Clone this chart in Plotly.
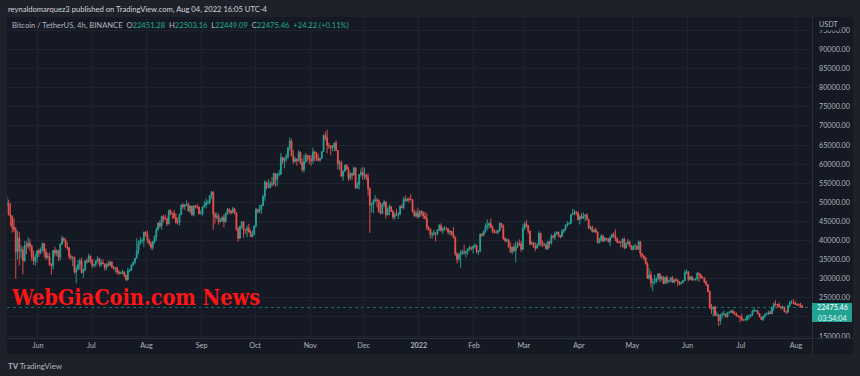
import pandas as pd
import plotly.graph_objects as go

# ---------------- data (daily BTC/USDT, thousands of USDT) ----------------
start_date = "2021-05-14"
first_open = 49.5

close = [
    # May 2021 (14-31)
    49.7, 46.7, 46.4, 43.5, 42.9, 37.0, 40.7, 37.3, 37.5, 34.7, 38.7, 38.4, 39.3, 38.5, 35.7, 34.6, 35.7, 37.3,
    # Jun 2021
    36.7, 37.6, 39.2, 36.9, 35.5, 35.8, 33.6, 33.4, 37.4, 36.7, 37.3, 35.6, 39.0, 40.5, 40.1, 38.4, 38.1, 35.8, 35.5, 35.6,
    31.7, 32.5, 33.7, 34.7, 31.6, 32.3, 34.7, 34.5, 35.9, 35.0,
    # Jul 2021
    33.5, 33.8, 34.7, 35.3, 33.7, 34.2, 33.9, 32.9, 33.8, 33.5, 34.3, 33.1, 32.7, 32.8, 31.8, 31.4, 31.5, 31.8, 30.8, 29.8,
    32.1, 32.3, 33.6, 34.3, 35.4, 37.3, 39.5, 40.0, 40.0, 42.2, 41.5,
    # Aug 2021
    39.9, 39.2, 38.2, 39.7, 40.9, 42.8, 44.6, 43.8, 46.3, 45.6, 45.6, 44.4, 47.8, 47.1, 47.0, 46.0, 44.7, 44.7, 46.8, 49.3,
    48.9, 49.3, 49.5, 47.7, 49.0, 46.8, 49.1, 48.9, 48.8, 47.0, 47.1,
    # Sep 2021
    48.8, 49.3, 49.9, 49.9, 51.8, 52.7, 46.9, 46.1, 46.4, 44.9, 45.2, 46.0, 44.9, 47.1, 48.1, 47.7, 47.3, 48.3, 47.3, 43.0,
    40.6, 43.6, 44.9, 42.8, 42.7, 43.2, 42.2, 41.0, 41.5, 43.8,
    # Oct 2021
    48.1, 47.6, 48.2, 49.2, 51.5, 55.3, 53.8, 53.9, 54.9, 54.7, 57.5, 56.0, 57.4, 57.4, 61.7, 60.9, 61.5, 62.0, 64.3, 66.0,
    62.2, 60.7, 61.3, 60.9, 63.1, 60.3, 58.5, 60.6, 62.3, 61.9, 61.3,
    # Nov 2021
    60.9, 63.2, 62.9, 61.4, 61.0, 61.5, 63.3, 67.5, 66.9, 64.9, 64.8, 64.2, 64.4, 65.5, 63.6, 60.1, 60.4, 56.9, 58.1, 59.7,
    58.7, 56.3, 57.5, 57.1, 59.0, 53.7, 54.7, 57.3, 57.8, 57.0,
    # Dec 2021
    57.2, 56.5, 53.6, 49.2, 49.4, 50.4, 50.6, 50.5, 47.5, 47.1, 49.4, 50.1, 46.7, 48.3, 48.9, 47.6, 46.1, 46.8, 46.7, 46.9,
    48.9, 48.6, 50.8, 50.4, 50.8, 50.7, 50.7, 47.5, 46.5, 47.1, 46.2,
    # Jan 2022
    47.7, 47.3, 46.4, 45.8, 43.4, 43.1, 41.6, 41.7, 41.9, 41.8, 42.7, 43.9, 42.6, 43.1, 43.2, 43.1, 42.2, 42.4, 41.7, 40.7,
    36.5, 35.1, 36.3, 36.7, 37.0, 36.8, 37.2, 37.7, 38.2, 37.9, 38.5,
    # Feb 2022
    38.7, 37.0, 37.2, 41.6, 41.4, 42.4, 43.8, 44.0, 44.4, 43.5, 42.4, 42.2, 42.1, 42.5, 44.5, 43.9, 40.5, 40.0, 40.1, 38.4,
    37.0, 38.3, 37.3, 38.3, 39.2, 39.1, 37.7, 43.2,
    # Mar 2022
    44.4, 43.9, 42.5, 39.1, 39.4, 38.4, 38.0, 38.7, 41.9, 39.4, 38.7, 38.8, 37.8, 39.7, 39.3, 41.1, 40.9, 41.8, 42.2, 41.3,
    41.0, 42.4, 42.9, 44.0, 44.4, 44.5, 46.8, 47.1, 47.4, 47.1, 45.5,
    # Apr 2022
    46.3, 45.8, 46.4, 46.6, 45.5, 43.2, 43.4, 42.3, 42.8, 42.2, 39.5, 40.1, 41.2, 39.9, 40.6, 40.4, 39.7, 40.8, 41.5, 41.4,
    40.5, 39.7, 39.5, 39.5, 40.4, 38.1, 39.2, 39.7, 38.6, 37.6,
    # May 2022
    38.5, 38.5, 37.7, 39.7, 36.6, 36.0, 35.5, 34.0, 30.1, 31.0, 28.9, 29.0, 29.3, 30.1, 31.3, 29.9, 30.4, 28.7, 30.3, 29.2,
    29.4, 30.3, 29.1, 29.7, 29.5, 29.2, 28.6, 29.0, 29.5, 31.7, 31.8,
    # Jun 2022
    29.8, 30.5, 29.7, 29.9, 29.9, 31.4, 31.1, 30.2, 30.1, 29.1, 28.4, 26.6, 22.5, 22.1, 22.6, 20.4, 20.5, 19.0, 20.6, 20.7,
    20.7, 20.0, 21.1, 21.2, 21.5, 21.0, 20.7, 20.3, 20.1, 19.9,
    # Jul 2022
    19.3, 19.2, 19.3, 20.2, 20.2, 20.5, 21.6, 21.6, 21.6, 20.9, 20.0, 19.3, 20.2, 20.6, 20.8, 21.2, 20.8, 22.4, 23.4, 23.2,
    23.2, 22.7, 22.5, 22.6, 21.3, 21.3, 23.0, 23.8, 23.8, 23.6, 23.3,
    # Aug 2022 (1-4)
    23.3, 23.0, 22.8, 22.47546,
]

high = [
    51.5, 50.7, 49.8, 46.6, 45.8, 43.5, 42.5, 42.2, 38.8, 38.3, 39.9, 39.8, 40.9, 40.4, 38.9, 37.3, 36.5, 37.5,
    37.9, 38.2, 39.5, 39.3, 37.9, 36.8, 36.8, 34.1, 37.5, 38.4, 37.7, 37.5, 39.3, 41.3, 40.9, 40.5, 39.6, 38.2, 36.4, 36.0,
    35.8, 33.3, 34.9, 35.3, 35.5, 32.7, 34.7, 35.3, 36.6, 36.1,
    35.0, 33.9, 34.9, 35.9, 35.3, 35.1, 35.0, 33.9, 34.1, 34.7, 34.6, 34.7, 33.3, 33.1, 33.2, 32.2, 31.9, 32.4, 31.9, 31.1,
    32.9, 32.6, 33.7, 34.5, 35.4, 40.6, 40.0, 40.9, 40.6, 42.3, 42.4,
    42.6, 40.5, 39.8, 39.9, 41.4, 43.4, 44.7, 45.3, 46.5, 46.7, 46.8, 46.2, 48.1, 48.2, 47.4, 48.0, 47.2, 46.0, 47.1, 49.4,
    49.8, 49.5, 50.5, 49.9, 49.3, 49.0, 49.2, 49.3, 49.6, 48.9, 48.0,
    49.0, 50.4, 51.0, 50.6, 51.9, 52.9, 52.9, 47.4, 47.3, 47.0, 45.9, 46.4, 46.9, 47.3, 48.5, 48.5, 48.0, 48.8, 48.4, 47.4,
    43.6, 44.0, 45.0, 45.0, 42.9, 43.9, 44.4, 42.8, 42.6, 44.0,
    48.5, 48.4, 49.3, 49.5, 51.9, 55.8, 55.3, 56.1, 55.5, 56.6, 57.8, 57.7, 57.6, 58.5, 62.9, 62.0, 61.7, 62.7, 64.5, 67.0,
    66.6, 63.7, 61.8, 61.5, 63.7, 63.3, 61.5, 62.5, 62.9, 62.4, 62.4,
    62.4, 64.3, 63.5, 63.1, 62.6, 61.6, 63.3, 67.8, 68.5, 69.0, 65.6, 65.0, 65.0, 65.6, 66.3, 63.6, 61.0, 60.9, 58.4, 59.8,
    60.0, 59.3, 57.9, 57.8, 59.4, 59.2, 55.3, 57.4, 58.9, 59.2,
    59.1, 57.4, 57.6, 53.9, 49.9, 50.9, 51.9, 51.2, 50.8, 50.1, 49.8, 50.7, 50.3, 48.7, 49.5, 49.0, 48.0, 47.4, 48.3, 47.5,
    49.3, 49.6, 51.4, 51.8, 51.2, 51.3, 52.1, 50.7, 48.1, 47.9, 48.6,
    47.9, 47.9, 47.6, 47.5, 47.1, 43.8, 43.1, 42.3, 42.8, 42.2, 43.0, 44.3, 44.5, 43.5, 43.8, 43.5, 43.2, 42.7, 42.6, 43.5,
    41.1, 36.9, 36.8, 37.5, 37.6, 38.9, 37.2, 38.0, 38.7, 38.4, 38.7,
    39.3, 38.9, 37.4, 41.9, 42.0, 42.7, 44.5, 45.5, 44.8, 45.8, 43.9, 42.9, 42.8, 42.9, 44.8, 44.6, 44.2, 40.9, 40.5, 40.5,
    39.5, 38.4, 39.2, 39.8, 39.7, 40.3, 39.9, 44.2,
    44.9, 45.4, 44.1, 42.5, 39.8, 39.6, 39.5, 39.4, 42.4, 42.0, 40.0, 39.5, 39.3, 39.9, 39.9, 41.7, 41.5, 42.3, 42.4, 42.3,
    41.5, 43.0, 43.0, 44.2, 45.1, 44.8, 46.9, 48.2, 48.1, 47.7, 47.6,
    46.7, 47.2, 47.4, 46.9, 47.2, 45.5, 43.9, 43.9, 42.8, 43.4, 42.4, 40.7, 41.6, 41.5, 40.9, 40.7, 40.6, 41.1, 41.8, 42.2,
    42.9, 40.8, 39.9, 39.9, 40.6, 40.8, 39.5, 40.4, 39.9, 38.8,
    38.7, 39.2, 38.7, 40.0, 39.8, 36.7, 36.1, 35.5, 34.3, 32.7, 32.0, 30.0, 31.0, 30.3, 31.4, 31.3, 30.8, 30.7, 30.6, 30.8,
    29.6, 30.4, 30.7, 29.8, 30.2, 29.9, 29.3, 29.2, 29.6, 32.2, 32.4,
    32.0, 30.7, 30.7, 30.0, 30.2, 31.8, 31.6, 31.0, 30.7, 30.4, 29.5, 28.6, 26.9, 23.4, 22.8, 22.9, 21.4, 20.8, 20.8, 21.2,
    21.7, 20.9, 21.2, 21.5, 21.9, 21.9, 21.5, 21.2, 20.4, 20.2,
    20.9, 19.4, 19.7, 20.4, 20.7, 20.7, 21.9, 22.5, 21.9, 21.6, 20.9, 20.0, 20.3, 20.9, 21.2, 21.6, 21.7, 22.8, 23.8, 24.3,
    23.4, 23.8, 22.7, 23.0, 22.7, 21.6, 23.1, 24.2, 24.4, 24.7, 24.2,
    23.5, 23.5, 23.7, 23.2,
]

low = [
    48.8, 46.6, 43.8, 42.1, 42.2, 30.0, 35.0, 33.5, 35.3, 31.1, 34.4, 36.4, 37.8, 37.2, 34.7, 33.6, 33.4, 34.2,
    35.7, 36.4, 37.2, 35.6, 34.8, 35.3, 33.4, 31.0, 32.4, 35.8, 35.9, 34.6, 34.8, 38.8, 39.5, 38.1, 37.4, 35.1, 34.8, 33.3,
    31.3, 28.8, 32.3, 32.3, 31.3, 30.2, 32.0, 33.9, 34.2, 34.0,
    32.7, 33.0, 33.0, 34.3, 33.1, 33.1, 33.8, 32.1, 32.3, 33.1, 33.3, 32.7, 32.2, 31.6, 31.1, 31.0, 31.2, 31.1, 30.4, 29.3,
    29.5, 31.7, 32.0, 33.4, 33.8, 35.2, 36.4, 38.8, 39.2, 38.3, 41.0,
    39.4, 38.7, 37.6, 37.5, 39.2, 39.9, 42.6, 43.3, 42.8, 44.7, 45.5, 43.8, 44.2, 46.6, 45.6, 45.7, 44.4, 44.2, 43.9, 46.6,
    48.3, 48.0, 49.0, 47.6, 47.1, 46.4, 46.3, 48.4, 48.3, 46.9, 46.8,
    46.5, 48.6, 48.4, 49.4, 49.5, 50.9, 42.8, 44.4, 45.5, 44.1, 44.7, 44.8, 43.4, 44.7, 46.7, 47.0, 46.8, 47.1, 46.8, 42.5,
    39.6, 40.4, 43.0, 40.7, 41.7, 40.8, 42.1, 40.9, 40.8, 41.4,
    43.3, 47.1, 47.2, 46.9, 49.0, 50.4, 53.4, 53.7, 53.6, 54.1, 54.4, 54.0, 54.3, 56.8, 57.1, 60.0, 58.9, 60.6, 61.3, 63.5,
    62.0, 60.0, 60.4, 59.6, 60.7, 59.9, 58.0, 57.8, 60.2, 60.7, 60.0,
    59.5, 60.1, 60.7, 60.8, 60.7, 60.6, 61.3, 63.3, 66.2, 62.8, 64.0, 62.3, 63.4, 63.3, 63.4, 58.6, 58.4, 56.5, 55.6, 58.0,
    58.5, 55.6, 55.8, 55.9, 57.0, 53.5, 53.6, 53.3, 56.7, 55.9,
    56.0, 55.8, 51.7, 42.0, 47.3, 47.1, 50.0, 48.7, 47.3, 46.8, 46.9, 48.7, 45.7, 46.6, 46.6, 47.5, 45.5, 45.5, 46.5, 45.6,
    46.6, 48.4, 48.1, 50.2, 50.2, 49.9, 50.5, 47.3, 46.1, 46.0, 45.7,
    46.2, 46.6, 45.7, 45.5, 42.7, 42.5, 40.6, 40.5, 41.2, 39.7, 41.3, 42.5, 42.3, 41.7, 42.6, 42.6, 41.6, 41.3, 41.2, 40.6,
    36.0, 34.0, 34.6, 32.9, 36.2, 36.3, 35.5, 36.2, 37.4, 37.4, 36.6,
    38.0, 36.6, 36.2, 36.9, 40.9, 41.1, 42.0, 42.8, 43.1, 43.2, 41.9, 41.8, 41.9, 41.6, 42.4, 43.3, 40.1, 39.5, 39.6, 38.1,
    36.8, 36.4, 37.0, 34.3, 38.0, 38.6, 37.0, 37.5,
    42.8, 43.4, 41.8, 38.7, 38.9, 38.1, 37.2, 37.9, 38.7, 38.5, 38.2, 38.7, 37.6, 37.6, 38.1, 38.9, 40.5, 40.1, 41.5, 40.9,
    40.5, 40.9, 41.8, 42.6, 43.6, 44.1, 44.4, 46.6, 46.6, 46.6, 45.2,
    44.2, 45.6, 45.6, 45.1, 45.4, 43.0, 42.7, 42.1, 42.1, 42.0, 39.2, 39.2, 39.6, 39.6, 39.8, 40.0, 39.5, 38.5, 40.6, 40.8,
    39.8, 39.2, 39.3, 38.2, 38.2, 37.7, 37.9, 38.9, 38.2, 37.6,
    37.4, 37.6, 37.5, 37.5, 35.6, 35.3, 34.8, 33.7, 30.0, 29.7, 27.7, 26.7, 28.4, 28.9, 29.5, 29.1, 29.5, 28.6, 28.7, 28.7,
    28.9, 29.2, 28.9, 28.7, 29.3, 28.0, 28.3, 28.6, 28.9, 29.3, 31.2,
    29.3, 29.6, 29.4, 29.5, 29.5, 29.5, 29.2, 30.0, 29.9, 28.9, 28.1, 26.5, 22.0, 20.8, 20.1, 20.2, 20.2, 17.6, 18.0, 19.6,
    20.3, 19.8, 19.9, 20.9, 21.0, 21.0, 20.5, 20.2, 19.8, 18.6,
    18.9, 18.9, 18.8, 19.0, 19.3, 19.8, 20.2, 21.2, 21.3, 20.6, 19.9, 19.2, 18.9, 19.6, 20.4, 20.5, 20.8, 20.8, 21.6, 22.9,
    22.3, 22.4, 21.9, 22.0, 21.3, 20.7, 21.0, 22.6, 23.4, 23.5, 23.1,
    22.9, 22.7, 22.7, 22.4,
]

month_ticks = ["2021-06-01", "2021-07-01", "2021-08-01", "2021-09-01", "2021-10-01", "2021-11-01",
               "2021-12-01", "2022-01-01", "2022-02-01", "2022-03-01", "2022-04-01", "2022-05-01",
               "2022-06-01", "2022-07-01", "2022-08-01"]
month_labels = ["Jun", "Jul", "Aug", "Sep", "Oct", "Nov", "Dec", "<b>2022</b>", "Feb", "Mar", "Apr",
                "May", "Jun", "Jul", "Aug"]
price_ticks = list(range(15000, 95001, 5000))
last_price = 22475.46

# ---------------- build OHLC ----------------
assert len(close) == len(high) == len(low)
n = len(close)
dates = pd.date_range(start_date, periods=n, freq="D") + pd.Timedelta(hours=12)
c = [v * 1000 for v in close]
o = [first_open * 1000] + c[:-1]
h = [max(hh * 1000, oo, cc) for hh, oo, cc in zip(high, o, c)]
l = [min(ll * 1000, oo, cc) for ll, oo, cc in zip(low, o, c)]

UP = "#26a69a"
DOWN = "#ef5350"
OUTER = "#1e2129"
PANEL = "#151924"
GRID = "#1f2330"
TXT = "#b2b5be"
FONT = "Lato, 'Liberation Sans', sans-serif"

fig = go.Figure(go.Candlestick(
    x=dates, open=o, high=h, low=l, close=c,
    increasing=dict(line=dict(color=UP, width=0.9), fillcolor=UP),
    decreasing=dict(line=dict(color=DOWN, width=0.9), fillcolor=DOWN),
    hoverinfo="skip",
))

W, H = 860, 376
L, R, T, B = 7, 48, 17, 38
pw, ph = W - L - R, H - T - B


def px(xpix):
    return (xpix - L) / pw


def py(ypix):
    return (H - B - ypix) / ph


shapes = [
    # chart panel
    dict(type="rect", xref="paper", yref="paper", x0=px(7), x1=px(853), y0=py(354), y1=py(17),
         fillcolor=PANEL, line=dict(width=0), layer="below"),
    # axis separators
    dict(type="line", xref="paper", yref="paper", x0=px(7), x1=px(853), y0=py(338.5), y1=py(338.5),
         line=dict(color="#2a2e39", width=1), layer="above"),
    dict(type="line", xref="paper", yref="paper", x0=px(812.5), x1=px(812.5), y0=py(354), y1=py(17),
         line=dict(color="#2a2e39", width=1), layer="above"),
    # last price line
    dict(type="line", xref="paper", yref="y", x0=0, x1=1, y0=last_price, y1=last_price,
         line=dict(color="#1f6f68", width=1, dash="dot"), layer="below"),
    # last price label box
    dict(type="rect", xref="paper", yref="paper", x0=px(812), x1=px(852), y0=py(322), y1=py(303),
         fillcolor="#22a393", line=dict(width=0), layer="above"),
]

grey = "#b2b5be"
teal = "#22ab94"
header2 = (f"<span style='color:{grey}'>Bitcoin / TetherUS, 4h, BINANCE  O</span>22451.28"
           f"<span style='color:{grey}'>  H</span>22503.16"
           f"<span style='color:{grey}'>  L</span>22449.09"
           f"<span style='color:{grey}'>  C</span>22475.46  +24.22 (+0.11%)")

annotations = [
    dict(text="reynaldomarquez3 published on TradingView.com, Aug 04, 2022 16:05 UTC-4",
         xref="paper", yref="paper", x=px(6), y=py(9), xanchor="left", yanchor="middle",
         showarrow=False, font=dict(family=FONT, size=7.6, color="#d1d4dc")),
    dict(text=header2, xref="paper", yref="paper", x=px(10), y=py(25.5), xanchor="left", yanchor="middle",
         showarrow=False, font=dict(family=FONT, size=7.6, color=teal)),
    dict(text="USDT", xref="paper", yref="paper", x=px(817), y=py(24), xanchor="left", yanchor="middle",
         showarrow=False, font=dict(family=FONT, size=7.2, color=TXT), bgcolor=PANEL, borderpad=1),
    dict(text="22475.46", xref="paper", yref="paper", x=px(832), y=py(307.8), xanchor="center",
         yanchor="middle", showarrow=False, font=dict(family=FONT, size=7.2, color="#ffffff")),
    dict(text="03:54:04", xref="paper", yref="paper", x=px(832), y=py(318), xanchor="center",
         yanchor="middle", showarrow=False, font=dict(family=FONT, size=7.2, color="#e6f5f3")),
    dict(text="WebGiaCoin.com News", xref="paper", yref="paper", x=px(9), y=py(297.5), xanchor="left",
         yanchor="middle", showarrow=False,
         font=dict(family="'DejaVu Serif Condensed', 'DejaVu Serif', serif", size=21.5, color="#ff1414",
                   weight="bold")),
    dict(text="<b>TV</b> TradingView", xref="paper", yref="paper", x=px(6), y=py(366), xanchor="left",
         yanchor="middle", showarrow=False, font=dict(family=FONT, size=7.8, color="#b2b5be")),
]

fig.update_layout(
    width=W, height=H, margin=dict(l=L, r=R, t=T, b=B, pad=0),
    paper_bgcolor=OUTER, plot_bgcolor="rgba(0,0,0,0)",
    showlegend=False, shapes=shapes, annotations=annotations,
    font=dict(family=FONT, color=TXT),
    xaxis=dict(
        type="date", range=["2021-05-14 14:00", "2022-08-09 23:30"],
        rangeslider=dict(visible=False),
        tickvals=month_ticks, ticktext=month_labels, ticks="",
        tickfont=dict(size=7.2, color=TXT), showgrid=True, gridcolor=GRID, gridwidth=1,
        zeroline=False, showline=False, fixedrange=True, ticklabelstandoff=2,
    ),
    yaxis=dict(
        side="right", range=[14476, 98508],
        tickvals=price_ticks, ticktext=[f"{v:.2f}" for v in price_ticks], ticks="",
        tickfont=dict(size=7.2, color=TXT), showgrid=True, gridcolor=GRID, gridwidth=1,
        zeroline=False, showline=False, fixedrange=True, ticklabelstandoff=6,
    ),
)

fig.write_html(
    "out.html",
    config={"displayModeBar": False},
    post_script="document.body.style.margin='0';document.body.style.padding='0';"
                "document.body.style.overflow='hidden';",
)
